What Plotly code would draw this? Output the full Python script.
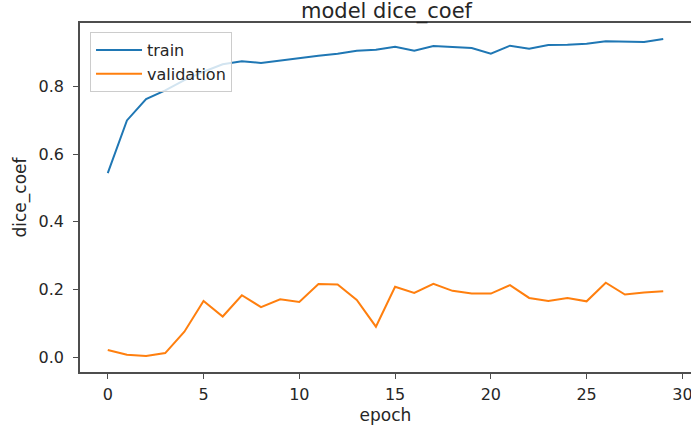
import plotly.graph_objects as go

epochs = list(range(30))
train = [0.544, 0.700, 0.763, 0.789, 0.819, 0.844, 0.866, 0.875, 0.870, 0.877,
         0.886, 0.891, 0.897, 0.906, 0.909, 0.918, 0.906, 0.920, 0.917, 0.914,
         0.897, 0.921, 0.912, 0.923, 0.924, 0.927, 0.934, 0.934, 0.932, 0.941]
validation = [0.021, 0.007, 0.003, 0.012, 0.075, 0.166, 0.120, 0.183, 0.148, 0.171,
              0.163, 0.216, 0.215, 0.169, 0.090, 0.208, 0.190, 0.217, 0.196, 0.188,
              0.188, 0.213, 0.175, 0.166, 0.175, 0.165, 0.220, 0.185, 0.191, 0.195]
x_ticks = [0, 5, 10, 15, 20, 25, 30]
y_ticks = [0.0, 0.2, 0.4, 0.6, 0.8]

FONT = "DejaVu Sans"
TXT = "#262626"
SPINE = "#4d4d4d"

fig = go.Figure()
fig.add_trace(go.Scatter(x=epochs, y=train, mode="lines", name="train",
                         line=dict(color="#1f77b4", width=2)))
fig.add_trace(go.Scatter(x=epochs, y=validation, mode="lines", name="validation",
                         line=dict(color="#ff7f0e", width=2)))

axis_common = dict(showgrid=False, zeroline=False, showline=True, linecolor=SPINE,
                   linewidth=1.5, mirror=True, ticks="outside", ticklen=5,
                   tickwidth=1.2, tickcolor=SPINE, automargin=False,
                   ticklabeloverflow="allow",
                   tickfont=dict(family=FONT, size=16, color=TXT))

fig.update_layout(
    width=691, height=432,
    margin=dict(l=80, r=0, t=23, b=60),
    paper_bgcolor="white", plot_bgcolor="white",
    title=dict(text="model dice_coef", x=386.5/691, xanchor="center",
               yref="container", y=1 - 11/432, yanchor="middle",
               font=dict(family=FONT, size=21, color=TXT)),
    xaxis=dict(range=[-1.45, 30.45], tickvals=x_ticks, ticklabelstandoff=2,
               title=dict(text="epoch", font=dict(family=FONT, size=17, color=TXT), standoff=6),
               **axis_common),
    yaxis=dict(range=[-0.044, 0.988], tickvals=y_ticks, tickformat=".1f",
               ticklabelstandoff=6,
               title=dict(text="dice_coef", font=dict(family=FONT, size=17, color=TXT), standoff=8),
               **axis_common),
    legend=dict(x=0.0164, y=0.974, xanchor="left", yanchor="top",
                bgcolor="rgba(255,255,255,0.8)", bordercolor="#cccccc", borderwidth=1,
                itemwidth=46, tracegroupgap=0,
                font=dict(family=FONT, size=16, color=TXT)),
    showlegend=True,
)

fig.write_html("out.html", config={"displayModeBar": False},
               post_script="document.body.style.margin='0';")
